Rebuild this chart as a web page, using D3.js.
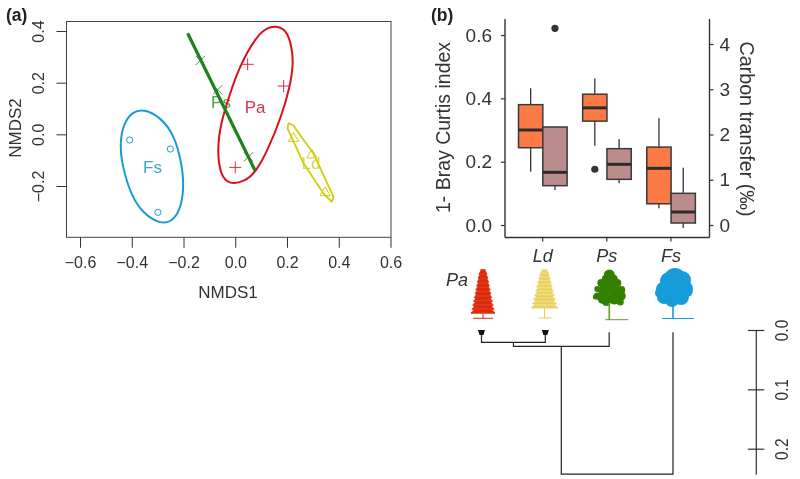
<!DOCTYPE html>
<html>
<head>
<meta charset="utf-8">
<script src="https://cdn.jsdelivr.net/npm/d3@7"></script>
<style>
  body { margin: 0; background: #fff; }
  svg { display: block; filter: blur(0.35px); }
  text { font-family: "Liberation Sans", Arial, sans-serif; fill: #333; }
  .axis path, .axis line { stroke: #333; }
</style>
</head>
<body>
<script>
// panel a: NMDS ellipses
var fsHull = [[-.354,.098],[-.290,.068],[-.234,-.005],[-.207,-.112],[-.197,-.208],[-.214,-.300],[-.251,-.342],[-.293,-.345],[-.358,-.305],[-.404,-.232],[-.436,-.125],[-.447,-.035],[-.430,.047],[-.395,.088]];
var paHull = [[.156,.420],[.198,.404],[.218,.342],[.225,.275],[.212,.185],[.178,.068],[.126,-.061],[.080,-.146],[.034,-.184],[-.021,-.194],[-.057,-.162],[-.070,-.061],[-.056,.043],[-.024,.146],[.015,.262],[.082,.380],[.122,.412]];
var ldHull = [[.206,.043],[.223,.036],[.302,-.074],[.380,-.242],[.373,-.261],[.341,-.229],[.264,-.112],[.202,.023]];
var psHull = [[-.184,.391],[.077,-.141]];

var fsPoints = [[-.408,-.022],[-.251,-.057],[-.299,-.302]];
var paPoints = [[.048,.271],[.187,.187],[0,-.128]];
var ldPoints = [[.225,-.016],[.296,-.080],[.347,-.226]];
var psPoints = [[-.135,.286],[-.068,.172],[.051,-.087]];

var groupLabels = ["Fs", "Pa", "Ps", "Ld"];
var groupCentres = [[-.32,-.133],[.077,.10],[-.055,.12],[.293,-.115]];
var groupColors = ["#1a9bd0", "#d9101c", "#2e8b2e", "#cfcf10"];
var labelColors = ["#38a6d8", "#dc3048", "#4f9f4f", "#d8d84a"];

var nmdsTicksX = [-.6,-.4,-.2,0,.2,.4,.6];
var nmdsTicksY = [-.2,0,.2,.4];

// panel b: boxes [low, q1, median, q3, high]
var species = ["Ld", "Ps", "Fs"];
var brayBoxes = [[.168,.244,.30,.38,.432],[.25,.328,.37,.413,.463],[.053,.067,.179,.246,.337]];
var carbonBoxes = [[.773,.869,1.164,2.166,2.166],[.921,1.009,1.341,1.687,1.893],[-.066,.044,.287,.70,1.267]];
var brayOutliers = [["Ps",.176]];
var carbonOutliers = [["Ld",4.346]];
var brayTicks = [0,.2,.4,.6];
var carbonTicks = [0,1,2,3,4];

// dendrogram heights
var taxa = ["Pa", "Ld", "Ps", "Fs"];
var tipHeight = .004;
var mergeHeights = [.021, .0275, .243];
var distTicks = [0,.1,.2];

var svg = d3.select("body").append("svg").attr("width",800).attr("height",479);

// ---------- panel a
var x = d3.scaleLinear().domain([-.6,.6]).range([80,390.5]);
var y = d3.scaleLinear().domain([-.2,.4]).range([186,31]);

svg.append("rect")
  .attr("x",66.5).attr("y",21.5).attr("width",324.5).attr("height",215.8)
  .attr("fill","none").attr("stroke","#444").attr("stroke-width",1);

var xAxis = svg.append("g").attr("class","axis")
  .attr("transform","translate(0,237.3)")
  .call(d3.axisBottom(x).tickValues(nmdsTicksX).tickSize(10.5).tickPadding(9).tickFormat(d3.format(".1f")));
xAxis.select("path").remove();
xAxis.selectAll("text").style("font-size","16px");

var yAxis = svg.append("g").attr("class","axis")
  .attr("transform","translate(66.5,0)")
  .call(d3.axisLeft(y).tickValues(nmdsTicksY).tickSize(10).tickFormat(d3.format(".1f")));
yAxis.select("path").remove();
yAxis.selectAll("text")
  .style("font-size","16px")
  .attr("text-anchor","middle").attr("dy",0).attr("x",0)
  .attr("transform","translate(-26.5,0) rotate(-90)")
  .attr("dominant-baseline","middle");

svg.append("text").attr("x",228).attr("y",298).attr("text-anchor","middle").style("font-size","17px").text("NMDS1");
svg.append("text").attr("transform","translate(21,128) rotate(-90)").attr("text-anchor","middle").style("font-size","17px").text("NMDS2");

svg.selectAll(null).data(groupLabels).enter().append("text")
  .attr("x",function(d,i){return x(groupCentres[i][0])})
  .attr("y",function(d,i){return y(groupCentres[i][1])})
  .attr("text-anchor","middle").attr("dominant-baseline","middle")
  .style("font-size","17px")
  .style("fill",function(d,i){return labelColors[i]})
  .text(function(d){return d});

var hullLine = d3.line().x(function(d){return x(d[0])}).y(function(d){return y(d[1])}).curve(d3.curveBasisClosed);
var plainLine = d3.line().x(function(d){return x(d[0])}).y(function(d){return y(d[1])});

[[fsHull,groupColors[0]],[paHull,groupColors[1]]].forEach(function(h){
  svg.append("path").attr("d",hullLine(h[0])).attr("fill","none").attr("stroke",h[1]).attr("stroke-width",2);
});
svg.append("path").attr("d",plainLine(ldHull)+"Z").attr("fill","none").attr("stroke",groupColors[3]).attr("stroke-width",1.8).attr("stroke-linejoin","round");

function markers(points, type, color) {
  var sym = d3.symbol().type(type).size(type === d3.symbolCircle ? 30 : 45);
  svg.selectAll(null).data(points).enter().append("path")
    .attr("d",sym)
    .attr("transform",function(d){return "translate(" + x(d[0]) + "," + y(d[1]) + ")"})
    .attr("fill","none").attr("stroke",color).attr("stroke-width",1);
}
markers(fsPoints, d3.symbolCircle, groupColors[0]);
markers(ldPoints, d3.symbolTriangle, groupColors[3]);

// R style + and x markers
svg.selectAll(null).data(paPoints).enter().append("path")
  .attr("d",function(d){var a=x(d[0]),b=y(d[1]);return "M"+(a-6)+","+b+"H"+(a+6)+"M"+a+","+(b-6)+"V"+(b+6)})
  .attr("stroke","#d43040").attr("stroke-width",1);
svg.selectAll(null).data(psPoints).enter().append("path")
  .attr("d",function(d){var a=x(d[0]),b=y(d[1]);return "M"+(a-4.5)+","+(b-4.5)+"L"+(a+4.5)+","+(b+4.5)+"M"+(a+4.5)+","+(b-4.5)+"L"+(a-4.5)+","+(b+4.5)})
  .attr("stroke","#3c8c3c").attr("stroke-width",1);
svg.append("path").attr("d",plainLine(psHull)).attr("fill","none").attr("stroke","#1f821f").attr("stroke-width",3.2);

svg.append("text").attr("x",6).attr("y",21).style("font-size","17.5px").style("font-weight","bold").style("fill","#222").text("(a)");
svg.append("text").attr("x",431).attr("y",21).style("font-size","17.5px").style("font-weight","bold").style("fill","#222").text("(b)");

// ---------- panel b
var band = d3.scaleBand().domain(species).range([510.6,703]);
var bray = d3.scaleLinear().domain([0,.6]).range([225,35]);
var carbon = d3.scaleLinear().domain([0,4]).range([225,44]);
var boxW = 24.3;

function drawBoxes(rows, scale, fill, off) {
  var g = svg.selectAll(null).data(rows).enter().append("g")
    .attr("transform",function(d,i){return "translate(" + (band(species[i]) + band.bandwidth()/2 + off) + ",0)"});
  g.append("line").attr("y1",function(d){return scale(d[0])}).attr("y2",function(d){return scale(d[4])}).attr("stroke","#333").attr("stroke-width",1.3);
  g.append("rect").attr("x",-boxW/2).attr("width",boxW)
    .attr("y",function(d){return scale(d[3])})
    .attr("height",function(d){return scale(d[1])-scale(d[3])})
    .attr("fill",fill).attr("stroke","#3a3a3a").attr("stroke-width",1.5);
  g.append("line").attr("x1",-boxW/2).attr("x2",boxW/2)
    .attr("y1",function(d){return scale(d[2])}).attr("y2",function(d){return scale(d[2])})
    .attr("stroke","#2d2d2d").attr("stroke-width",3);
}
drawBoxes(brayBoxes, bray, "#fb7a45", -12);
drawBoxes(carbonBoxes, carbon, "#bc8c8c", 12.3);

svg.selectAll(null).data(brayOutliers).enter().append("circle")
  .attr("cx",function(d){return band(d[0]) + band.bandwidth()/2 - 12}).attr("cy",function(d){return bray(d[1])}).attr("r",3.6).attr("fill","#333");
svg.selectAll(null).data(carbonOutliers).enter().append("circle")
  .attr("cx",function(d){return band(d[0]) + band.bandwidth()/2 + 12.3}).attr("cy",function(d){return carbon(d[1])}).attr("r",3.6).attr("fill","#333");

var axisStyle = function(g, size) {
  g.selectAll("path").attr("stroke","#222").attr("stroke-width",1.4);
  g.selectAll("line").attr("stroke","#222").attr("stroke-width",1.2);
  g.selectAll("text").style("font-size",size);
};

var leftAxis = svg.append("g").attr("class","axis").attr("transform","translate(505,0)")
  .call(d3.axisLeft(bray).tickValues(brayTicks).tickSize(4).tickPadding(9).tickSizeOuter(0).tickFormat(d3.format(".1f")));
leftAxis.select("path").attr("d","M0,19V237.5");
axisStyle(leftAxis,"19px");

var rightAxis = svg.append("g").attr("class","axis").attr("transform","translate(709.5,0)")
  .call(d3.axisRight(carbon).tickValues(carbonTicks).tickSize(4).tickPadding(6).tickSizeOuter(0).tickFormat(d3.format("d")));
rightAxis.select("path").attr("d","M0,19V237.5");
axisStyle(rightAxis,"19px");

var bottomAxis = svg.append("g").attr("class","axis").attr("transform","translate(0,237.5)")
  .call(d3.axisBottom(band).tickSize(4).tickPadding(8).tickSizeOuter(0));
bottomAxis.select("path").attr("d","M505,0H709.5");
axisStyle(bottomAxis,"18px");
bottomAxis.selectAll("text").style("font-style","italic");

svg.append("text").attr("transform","translate(450,127.5) rotate(-90)").attr("text-anchor","middle").style("font-size","19.5px").text("1- Bray Curtis index");
svg.append("text").attr("transform","translate(740,129) rotate(90)").attr("text-anchor","middle").style("font-size","19.7px").text("Carbon transfer (‰)");

// ---------- trees
var tip = d3.scalePoint().domain(taxa).range([481.5,673]);

function conifer(cx, top, bottom, base, halfW, color, gap, lw, baseL, baseR) {
  var g = svg.append("g").attr("stroke",color).attr("fill","none");
  d3.range(top, bottom, gap).forEach(function(yy, i) {
    var t = (yy - top) / (bottom - top);
    var w = (.2 + .8 * Math.sqrt(t) * (.55 + .45 * t)) * halfW * (i % 3 === 0 ? 1 : i % 3 === 1 ? .84 : .92);
    g.append("line").attr("x1",cx-w).attr("x2",cx+w).attr("y1",yy).attr("y2",yy).attr("stroke-width",lw);
  });
  g.append("line").attr("x1",cx).attr("x2",cx).attr("y1",bottom).attr("y2",base).attr("stroke-width",1);
  g.append("line").attr("x1",cx+baseL).attr("x2",cx+baseR).attr("y1",base).attr("y2",base).attr("stroke-width",1);
}
function broadleaf(cx, blobs, trunkTop, base, left, right, color, trunkColor) {
  var g = svg.append("g");
  g.selectAll("circle").data(blobs).enter().append("circle")
    .attr("cx",function(d){return cx+d[0]}).attr("cy",function(d){return d[1]}).attr("r",function(d){return d[2]}).attr("fill",color);
  g.append("line").attr("x1",cx).attr("x2",cx).attr("y1",trunkTop).attr("y2",base).attr("stroke",trunkColor).attr("stroke-width",1.6);
  g.append("line").attr("x1",cx+left).attr("x2",cx+right).attr("y1",base).attr("y2",base).attr("stroke",trunkColor).attr("stroke-width",1);
}
conifer(483, 270, 314, 318.3, 12.3, "#dd2a0a", 1.3, 1.7, -10, 10);
conifer(544.5, 270, 308, 318, 13.4, "#e8cf55", 1.4, 1.35, -6, 7);
broadleaf(609.3,
  [[0,275,5.5],[-3,279,4.5],[4,279,4.5],[-8,283,4],[8,283,4],[0,285,7],[-12,289,3],[12,290,4],[-5,291,6],[5,291,6],[-12,296,3.5],[-14,297,2.5],[12,296,4.5],[-6,298,6],[5,298,6.5],[11,302,3.5],[-3,302,4]],
  303, 319.7, -4, 19, "#338000", "#5a9e2a");
broadleaf(673,
  [[2,279,11],[-4,281,9],[9,280,9],[-10,289,7],[1,289,14],[12,289,8],[15,292,4.5],[-14,293,4],[-9,297,7],[8,297,8],[-1,300,7]],
  305, 318.5, -11, 21, "#169cd8", "#169cd8");

svg.append("text").attr("x",457).attr("y",286).attr("text-anchor","middle").style("font-size","18px").style("font-style","italic").text("Pa");

// ---------- dendrogram
var dist = d3.scaleLinear().domain([0,.2]).range([330,448.7]);
var ink = "#222";
var mid1 = (tip("Pa")+tip("Ld"))/2;
var mid2 = (mid1+tip("Ps"))/2;
var dendro = [
  "M"+tip("Pa")+","+dist(tipHeight)+"V"+dist(mergeHeights[0])+"H"+tip("Ld")+"V"+dist(tipHeight),
  "M"+mid1+","+dist(mergeHeights[0])+"V"+dist(mergeHeights[1])+"H"+tip("Ps")+"V"+dist(tipHeight),
  "M"+mid2+","+dist(mergeHeights[1])+"V"+dist(mergeHeights[2])+"H"+tip("Fs")+"V"+dist(tipHeight)
];
svg.selectAll(null).data(dendro).enter().append("path").attr("d",function(d){return d}).attr("fill","none").attr("stroke",ink).attr("stroke-width",1.2);

// significance marks on Pa and Ld tips
svg.selectAll(null).data(["Pa","Ld"]).enter().append("path")
  .attr("d",function(d){var a=tip(d);return "M"+(a-3.5)+",330H"+(a+3.5)+"L"+(a+2)+",335H"+(a-2)+"Z"})
  .attr("fill","#111");

// distance scale bar
var bar = svg.append("g").attr("class","axis").attr("transform","translate(756.3,0)");
bar.call(d3.axisRight(dist).tickValues(distTicks).tickSize(0).tickFormat(d3.format(".1f")));
bar.select("path").attr("d","M0,330V474.7").attr("stroke",ink).attr("stroke-width",1.2);
bar.selectAll(".tick line").attr("x1",-8.5).attr("x2",8).attr("stroke",ink).attr("stroke-width",1.2);
bar.selectAll("text")
  .style("font-size","15.5px")
  .attr("x",0).attr("dy",0)
  .attr("text-anchor","middle")
  .attr("dominant-baseline","middle")
  .attr("transform","translate(26.5,0) rotate(-90) scale(1,1.2)");
</script>
</body>
</html>
